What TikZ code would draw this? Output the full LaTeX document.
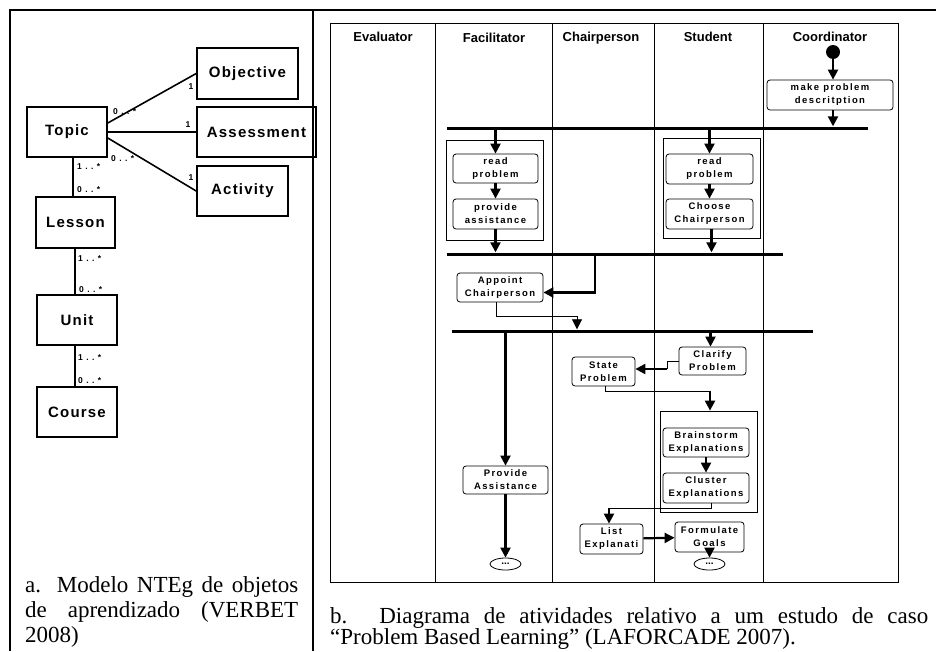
\documentclass[tikz,border=0pt]{standalone}
\usepackage{fontspec}
\setmainfont{Liberation Serif}
\setsansfont{Liberation Sans}
\newfontfamily\umlfont{Liberation Sans}[LetterSpace=8]
\newfontfamily\actfont{Liberation Sans}[LetterSpace=15]
\newfontfamily\multfont{Liberation Sans}[LetterSpace=40]
\usetikzlibrary{arrows.meta,positioning,shapes.geometric}

\begin{document}
\begin{tikzpicture}[x=1pt, y=-1pt,
    classbox/.style={draw, line width=1.6pt, inner sep=0pt, minimum height=50pt,
      font={\umlfont\bfseries\fontsize{15}{17}\selectfont}},
    assoc/.style={line width=1.6pt},
    mult/.style={inner sep=0pt, font={\multfont\bfseries\fontsize{8.5}{9}\selectfont}},
    lane/.style={line width=0.8pt},
    header/.style={anchor=base, font={\sffamily\bfseries\fontsize{13}{15}\selectfont}},
    act/.style={draw, rounded corners=3pt, line width=0.8pt, align=center, inner sep=0pt,
      minimum height=29pt, font={\actfont\bfseries\fontsize{9.5}{13}\selectfont}},
    group/.style={draw, line width=0.8pt, inner sep=0pt},
    bar/.style={fill, inner sep=0pt, minimum height=3pt},
    flow/.style={line width=2.2pt, -{Triangle[length=10pt,width=10pt]}},
    link/.style={line width=0.8pt},
    flowthin/.style={line width=0.8pt, -{Triangle[length=10pt,width=10pt]}},
    dots/.style={draw, ellipse, line width=0.8pt, inner sep=0pt, minimum width=31pt,
      minimum height=12pt, font={\sffamily\bfseries\fontsize{10}{10}\selectfont}},
    caption/.style={anchor=north west, inner sep=0pt, align=justify}
  ]
  \useasboundingbox (0,0) rectangle (936,651);

  % frame of the two cells
  \draw[line width=1.6pt] (10,651) -- (10,10) -- (936,10);
  \draw[line width=1.6pt] (313,10) -- (313,651);

  % a. class model
  \node[classbox, minimum width=80pt] (topic) at (67,132) {Topic};
  \node[classbox, minimum width=101pt, minimum height=51pt] (objective) at (247.5,73.5) {Objective};
  \node[classbox, minimum width=119pt] (assessment) at (256.5,132) {Assessment};
  \node[classbox, minimum width=91pt] (activity) at (242.5,191) {Activity};
  \node[classbox, minimum width=79pt, minimum height=51pt] (lesson) at (75.5,222.5) {Lesson};
  \node[classbox, minimum width=80pt] (unit) at (77,320) {Unit};
  \node[classbox, minimum width=80pt] (course) at (77,412) {Course};

  \draw[assoc] ([yshift=9pt]topic.east) -- (objective.west);
  \draw[assoc] (topic.east) -- (assessment.west);
  \draw[assoc] ([yshift=-6pt]topic.east) -- (activity.west);
  \draw[assoc] ([xshift=-2.5pt]lesson.north) -- ([xshift=-2.5pt]lesson.north |- topic.south);
  \draw[assoc] ([xshift=-0.5pt]lesson.south) -- ([xshift=-0.5pt]lesson.south |- unit.north);
  \draw[assoc] ([xshift=-2pt]unit.south) -- ([xshift=-2pt]course.north);

  \node[mult, anchor=west] (mTopObj) at (113,112) {0..*};
  \node[mult] (mObj) at (191,87) {1};
  \node[mult] (mAss) at (188,125) {1};
  \node[mult, anchor=west] (mTopAct) at (111,159) {0..*};
  \node[mult] (mAct) at (191,178) {1};
  \node[mult, anchor=west] (mTopLes) at (77,167) {1..*};
  \node[mult, anchor=west] (mLesTop) at (77,190) {0..*};
  \node[mult, anchor=west] (mLesUni) at (78,259) {1..*};
  \node[mult, anchor=west] (mUniLes) at (79,290) {0..*};
  \node[mult, anchor=west] (mUniCou) at (78,358) {1..*};
  \node[mult, anchor=west] (mCouUni) at (78,381) {0..*};

  \node[caption, text width=273pt, font={\rmfamily\fontsize{23}{25}\selectfont}] (capA) at (25,576)
    {a. Modelo NTEg de objetos\linebreak de aprendizado (VERBET\linebreak 2008)};

  % b. activity diagram with swimlanes
  \draw[lane] (330,23) rectangle (898,582);
  \foreach \x in {435,552,654,763}
    \draw[lane] (\x,23) -- (\x,582);
  \node[header] (hEval) at (383,41) {Evaluator};
  \node[header] (hFac) at (494,42) {Facilitator};
  \node[header] (hChair) at (601,41) {Chairperson};
  \node[header] (hStu) at (708,41) {Student};
  \node[header] (hCoord) at (830,41) {Coordinator};

  \node[circle, fill, inner sep=0pt, minimum size=14pt] (start) at (833,52) {};
  \node[act, minimum width=126pt, minimum height=30pt] (make) at (830,95) {make problem\\descritption};
  \node[bar, minimum width=421pt] (bar1) at (657.5,128) {};

  \node[group, minimum width=97pt, minimum height=100pt] (gFac) at (494.5,190) {};
  \node[act, minimum width=85pt] (fRead) at (495.5,168.5) {read\\problem};
  \node[act, minimum width=85pt, minimum height=30pt] (fAssist) at (495.5,214) {provide\\assistance};
  \node[group, minimum width=97pt, minimum height=100pt] (gStu) at (711.5,188) {};
  \node[act, minimum width=87pt, minimum height=30pt] (sRead) at (709.5,169) {read\\problem};
  \node[act, minimum width=87pt, minimum height=30pt] (sChoose) at (709.5,214) {Choose\\Chairperson};
  \node[bar, minimum width=336pt] (bar2) at (615,254) {};

  \node[act, minimum width=86pt] (appoint) at (500,287.5) {Appoint\\Chairperson};
  \node[bar, minimum width=361pt] (bar3) at (632.5,331) {};

  \node[act, minimum width=85pt, minimum height=28pt] (provide) at (505.5,480) {Provide\\Assistance};
  \node[dots] (end1) at (505.5,564) {...};

  \node[act, minimum width=67pt, minimum height=28pt] (clarify) at (712.5,361) {Clarify\\Problem};
  \node[act, minimum width=63pt] (state) at (603.5,371.5) {State\\Problem};
  \node[group, minimum width=97pt, minimum height=101pt] (gBrain) at (708.5,461.5) {};
  \node[act, minimum width=86pt] (brain) at (706,442.5) {Brainstorm\\Explanations};
  \node[act, minimum width=86pt, minimum height=30pt] (cluster) at (706,488) {Cluster\\Explanations};
  \node[act, minimum width=63pt, minimum height=30pt] (list) at (611.5,539) {List\\Explanati};
  \node[act, minimum width=69pt, minimum height=30pt] (formulate) at (709.5,537) {Formulate\\Goals};
  \node[dots] (end2) at (709.5,564) {...};

  \coordinate (split2) at (595,254);
  \coordinate (join3) at (577,316);
  \coordinate (stepC) at (667,369);
  \coordinate (stepS) at (710,391);
  \coordinate (stepL) at (609,508);

  \draw[flow] (start.south) -- (start |- make.north);
  \draw[flow] (start |- make.south) -- (start |- bar1.north);
  \draw[flow] (fRead.north |- bar1.south) -- (fRead.north);
  \draw[flow] (fRead) -- (fAssist);
  \draw[flow] (fAssist.south) -- (fAssist.south |- bar2.north);
  \draw[flow] (sRead.north |- bar1.south) -- (sRead.north);
  \draw[flow] (sRead) -- (sChoose);
  \draw[flow] ([xshift=2pt]sChoose.south) -- ([xshift=2pt]sChoose.south |- bar2.north);
  \draw[flow] (split2) |- ([yshift=-5pt]appoint.east);
  \draw[link] ([xshift=-4pt]appoint.south) |- (join3);
  \draw[flowthin] (join3) -- (join3 |- bar3.north);
  \draw[flow] (provide.north |- bar3.south) -- (provide.north);
  \draw[flow] (provide) -- (end1);
  \draw[flow] ([xshift=-2pt]clarify.north |- bar3.south) -- ([xshift=-2pt]clarify.north);
  \draw[link] (clarify.west) -| (stepC);
  \draw[flow] (stepC) -- (stepC -| state.east);
  \draw[link] ([xshift=2pt]state.south) |- (stepS);
  \draw[flow] (stepS) -- (stepS |- gBrain.north);
  \draw[flow] (brain) -- (cluster);
  \draw[link] ([xshift=5pt]cluster.south) |- (stepL);
  \draw[flow] (stepL) -- (stepL |- list.north);
  \draw[flow] (list) -- (formulate);
  \draw[flow] (formulate) -- (end2);

  \node[caption, text width=598pt, font={\rmfamily\fontsize{23}{21}\selectfont}] (capB) at (330,607)
    {b. Diagrama de atividades relativo a um estudo de caso\linebreak
     “Problem Based Learning” (LAFORCADE 2007).};
\end{tikzpicture}
\end{document}
